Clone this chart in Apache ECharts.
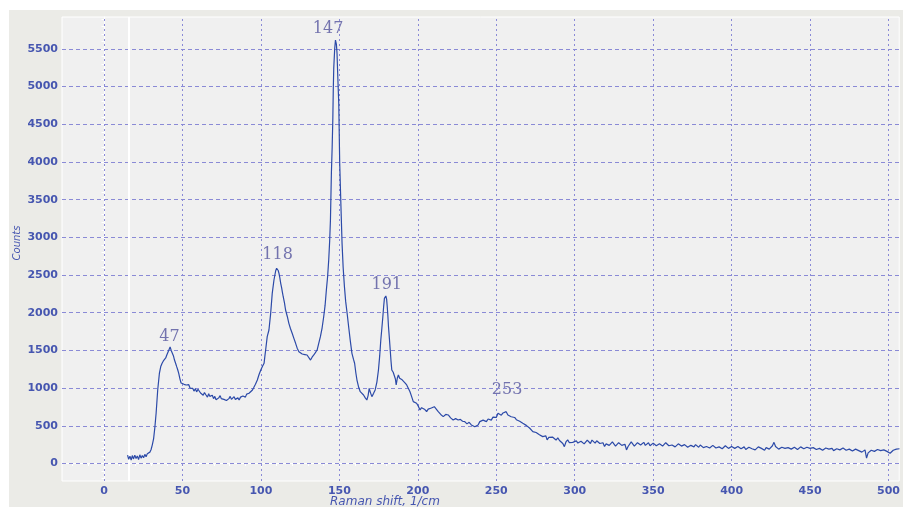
<!DOCTYPE html>
<html><head><meta charset="utf-8">
<script src="https://cdn.jsdelivr.net/npm/echarts@6/dist/echarts.min.js"></script>
<style>html,body{margin:0;padding:0;background:#fff}#c{width:903px;height:507px}</style>
</head><body><div id="c"></div><script>
// Raman spectrum: [shift (1/cm), counts]
const lowBand = [[15,110],[15.7,55],[16.5,95],[17.3,45],[18,105],[18.8,60],[19.6,110],[20.4,65],[21.2,100],[22,50],[22.8,115],[23.6,70],[24.4,105],[25.2,75],[26,120],[26.8,90],[27.6,130],[28.4,115],[29.2,150],[30,185],[30.8,250],[31.6,330],[32.4,480],[33.2,670],[34.2,975],[35.3,1200],[36.2,1290],[37,1330],[37.8,1360],[38.5,1372],[39.3,1400],[40,1440],[40.6,1465],[41.4,1510],[42.1,1545],[42.8,1500],[43.4,1483],[44.2,1430],[44.9,1372],[45.6,1330],[46.3,1284],[47,1240],[47.6,1196],[48.4,1120],[49.1,1067],[50.1,1085],[51,1050],[51.8,1065],[52.3,1041],[53.2,1020],[54,1045],[54.8,1000],[55.6,1015],[56.5,997],[57.3,960],[58.2,990],[59,950],[59.9,985],[60.7,975],[61.5,935],[62.4,955],[63.2,905],[64,940],[65,908],[65.9,880],[66.7,925],[67.4,890],[68.1,864],[69,905],[69.8,860],[70.6,890],[71.4,845],[72.3,820],[73.1,870],[74,900],[74.7,860],[75.5,886],[76.4,850],[77.2,875],[78,835],[78.7,820],[79.6,860],[80.4,890],[81.2,850],[82,875],[82.9,886],[83.7,850],[84.5,830],[85.3,870],[86.1,842],[87,880],[87.8,860],[88.5,895],[89.3,908],[90.1,880],[90.9,920],[91.7,905],[92.4,931],[93.5,955],[94.6,975],[95.5,1010],[96.5,1050],[97.7,1107],[98.8,1180],[99.9,1240],[101,1290],[102,1329],[102.5,1420]];
const peak118 = [[103,1505],[104,1682],[105.1,1771],[106.2,1992],[107.2,2257],[108.3,2434],[109.4,2557],[110,2590],[110.4,2575],[111,2560],[111.5,2522],[112,2470],[112.6,2390],[113.2,2330],[113.6,2280],[114.2,2212],[115,2130],[115.7,2036],[116.8,1950],[117.8,1859],[118.8,1790],[119.9,1727],[121,1660],[122.1,1594],[123.1,1530],[124.2,1483],[125.2,1465],[126.3,1452],[127.2,1470],[128,1445],[128.7,1455],[129.4,1439],[130.3,1420],[131.6,1372],[132.6,1410],[133.7,1439],[134.7,1470],[135.8,1505],[136.8,1590],[137.9,1682],[139,1800],[140,1947],[140.9,2100],[141.7,2301],[142.5,2480],[143.2,2699]];
const peak147 = [[143.8,2950],[144.3,3229],[144.9,3849],[145.4,4200],[145.8,4556],[146.1,4950],[146.4,5242],[147,5500],[147.5,5617],[147.8,5640],[148.1,5560],[148.5,5441],[149,5120],[149.6,4777],[150.2,3982],[151,3406],[151.7,2920],[152.4,2600],[153.2,2350],[154,2150],[155,1980],[155.9,1814],[157,1620],[158,1461],[159,1380],[159.7,1329],[160.5,1200],[161.2,1107],[162.3,1010],[163.3,952],[164.4,930],[165.4,908],[166.5,870],[167.5,842],[168.3,900],[169,997],[169.8,940],[170.7,886],[171.8,930],[172.8,975],[173.9,1080],[174.9,1240]];
const peak191 = [[175.7,1430],[176.4,1638],[177.1,1800],[177.7,1947],[178.2,2080],[178.7,2191],[179.2,2215],[179.6,2222],[180.1,2180],[180.5,2080],[180.9,1960],[181.3,1814],[181.9,1650],[182.4,1505],[182.9,1360],[183.4,1240],[184.3,1210],[185.1,1196],[185.7,1120],[186.2,1041],[186.9,1130],[187.6,1174],[188.4,1130],[189.3,1151],[190,1110],[190.8,1085],[191.8,1070],[192.9,1041],[194,995],[195,952],[196,890],[197.1,820],[198.1,815],[199.2,798]];
const band253 = [[200.3,760],[201.4,710],[202.4,740],[203.5,753],[204.5,715],[205.6,687],[206.6,720],[207.7,710],[208.6,735],[209.5,745],[210.5,753],[211.7,730],[213,687],[214.6,650],[216.2,621],[217.8,650],[219.4,643],[220.9,605],[222.5,577],[224.1,595],[225.7,577],[227.1,585],[228.5,560],[229.9,555],[231.3,525],[232.7,545],[234.1,511],[235.2,530],[236.3,488],[237.3,467],[238.4,510],[239.5,555],[240.5,530],[241.6,575],[242.6,577],[243.7,555],[244.8,590],[245.8,599],[246.8,575],[247.9,615],[249,630],[250,610],[251.1,665],[252.2,655],[253.2,640],[254.3,670],[255.3,674],[256.3,687],[257.4,643],[258.4,660],[259.5,620],[260.6,599],[261.7,610],[262.8,580],[263.8,577],[264.9,560],[265.9,545],[266.9,533],[268,540],[269.1,505],[270.1,488],[271.2,470],[272.2,460],[273.3,422],[274.4,430],[275.4,410],[276.4,400],[277.5,380],[278.6,395],[279.6,356],[280.7,334],[281.6,365],[282.4,312],[283.5,345],[284.6,325],[285.8,350],[287,334],[288.1,310],[289.2,340],[290.3,305],[291.4,320],[292.4,265],[293.4,223],[294.4,285],[295.5,312],[296.6,275],[297.6,300],[298.7,280],[299.7,289]];
const tail = [[301,300],[302,270],[303,265],[304,295],[305,305],[306,260],[307,280],[308,310],[309,295],[310,265],[311,310],[312,285],[313,270],[314,300],[315,290],[316,265],[317,255],[318,275],[319,225],[320,260],[321,280],[322,240],[323,250],[324,285],[325,270],[326,230],[327,245],[328,275],[329,260],[330,240],[331,230],[332,255],[333,180],[334,225],[335,250],[336,285],[337,270],[338,230],[339,240],[340,275],[341,290],[342,245],[343,255],[344,280],[345,240],[346,260],[347,275],[348,235],[349,230],[350,270],[351,255],[352,235],[353,225],[354,260],[355,270],[356,230],[357,240],[358,275],[359,265],[360,235],[361,215],[362,245],[363,250],[364,220],[365,230],[366,260],[367,255],[368,230],[369,220],[370,250],[371,240],[372,215],[373,205],[374,240],[375,235],[376,220],[377,250],[378,235],[379,215],[380,245],[381,230],[382,210],[383,200],[384,225],[385,240],[386,205],[387,210],[388,240],[389,225],[390,205],[391,195],[392,220],[393,215],[394,195],[395,205],[396,235],[397,230],[398,200],[399,195],[400,225],[401,220],[402,200],[403,190],[404,225],[405,215],[406,195],[407,200],[408,220],[409,185],[410,205],[411,215],[412,190],[413,195],[414,215],[415,180],[416,200],[417,220],[418,195],[419,200],[420,185],[421,175],[422,210],[423,205],[424,190],[425,215],[426,235],[427,280],[428,225],[429,210],[430,190],[431,195],[432,215],[433,220],[434,200],[435,190],[436,210],[437,205],[438,190],[439,185],[440,215],[441,210],[442,185],[443,195],[444,220],[445,215],[446,195],[447,200],[448,215],[449,225],[450,200],[451,190],[452,210],[453,205],[454,185],[455,170],[456,200],[457,200],[458,175],[459,180],[460,205],[461,210],[462,190],[463,185],[464,200],[465,170],[466,190],[467,195],[468,170],[469,180],[470,200],[471,205],[472,185],[473,175],[474,195],[475,190],[476,170],[477,165],[478,185],[479,190],[480,175],[481,170],[482,190],[483,150],[484,170],[485,180],[486,70],[487,140],[488,165],[489,175],[490,150],[491,160],[492,180],[493,185],[494,160],[495,170],[496,190],[497,180],[498,165],[499,160],[500,175],[501,135],[502,160],[503,175],[504,165],[505,190],[506,180],[507,195]];

// Peak annotations (label text and where it sits)
const peakLabels = ['47','118','147','191','253'];
const peakLabelShift = [41.7,110.6,142.8,180.2,256.9];
const peakLabelCounts = [1682,2765,5772,2367,975];

// Axis tick labels
const xTickLabels = [0,50,100,150,200,250,300,350,400,450,500];
const yTickLabels = [0,500,1000,1500,2000,2500,3000,3500,4000,4500,5000,5500];

const spectrum = [].concat(lowBand, peak118, peak147, peak191, band253, tail);
const xMinor = []; for (let v = -20; v <= 500; v += 10) xMinor.push(v);
const yMinor = []; for (let v = -200; v <= 5900; v += 100) yMinor.push(v);

const labelColor = '#4656b0';
const gridColor = '#8a8ad6';
const X_MIN = -26.8, X_MAX = 506.8, Y_MIN = -233, Y_MAX = 5924;

const chart = echarts.init(document.getElementById('c'));
chart.setOption({
  animation: false,
  backgroundColor: '#ffffff',
  graphic: [
    { type: 'rect', z: -10, shape: { x: 9, y: 10, width: 894, height: 497 }, style: { fill: '#ebebe7' } },
    { type: 'text', z: 10, style: { text: 'Raman shift, 1/cm', x: 330, y: 501.5, font: 'italic 12px "DejaVu Sans"', fill: labelColor, textAlign: 'left', textVerticalAlign: 'middle' } },
    { type: 'text', z: 10, x: 17, y: 243, rotation: Math.PI / 2, style: { text: 'Counts', x: 0, y: 0, font: 'italic 10px "DejaVu Sans"', fill: labelColor, textAlign: 'center', textVerticalAlign: 'middle' } }
  ],
  grid: { left: 62, top: 17, right: 0, bottom: 26, show: true, backgroundColor: '#f0f0f0', borderColor: '#ffffff', borderWidth: 1 },
  xAxis: [
    { type: 'value', position: 'bottom', min: X_MIN, max: X_MAX,
      axisLine: { show: true, lineStyle: { color: '#ffffff', width: 1 } },
      axisTick: { show: true, customValues: xTickLabels, length: 4, lineStyle: { color: '#ffffff' } },
      axisLabel: { customValues: xTickLabels, margin: 5, color: labelColor, fontFamily: 'DejaVu Sans', fontSize: 11, fontWeight: 'bold', formatter: v => String(v) },
      splitLine: { show: false } },
    { type: 'value', position: 'bottom', min: X_MIN, max: X_MAX,
      axisLine: { show: false }, axisLabel: { show: false },
      axisTick: { show: true, customValues: xMinor, length: 2.5, lineStyle: { color: '#ffffff' } },
      splitLine: { show: false } }
  ],
  yAxis: [
    { type: 'value', position: 'left', min: Y_MIN, max: Y_MAX,
      axisLine: { show: true, lineStyle: { color: '#ffffff', width: 1 } },
      axisTick: { show: true, customValues: yTickLabels, length: 4, lineStyle: { color: '#ffffff' } },
      axisLabel: { customValues: yTickLabels, margin: 4, color: labelColor, fontFamily: 'DejaVu Sans', fontSize: 11, fontWeight: 'bold', formatter: v => String(v) },
      splitLine: { show: false } },
    { type: 'value', position: 'left', min: Y_MIN, max: Y_MAX,
      axisLine: { show: false }, axisLabel: { show: false },
      axisTick: { show: true, customValues: yMinor, length: 2.5, lineStyle: { color: '#ffffff' } },
      splitLine: { show: false } }
  ],
  series: [
    { type: 'scatter', xAxisIndex: 0, yAxisIndex: 0, z: 1, silent: true,
      data: peakLabels.map((t, i) => ({ name: t, value: [peakLabelShift[i], peakLabelCounts[i]] })),
      symbol: 'circle', symbolSize: 1, itemStyle: { color: 'rgba(0,0,0,0)' },
      label: { show: true, position: 'inside', formatter: p => p.name, fontFamily: 'DejaVu Serif', fontSize: 16, color: '#54549e' },
      markLine: { silent: true, symbol: ['none', 'none'], label: { show: false }, animation: false,
        data: [].concat(
          yTickLabels.map(v => ({ yAxis: v, lineStyle: { type: [4, 3], color: gridColor, width: 1 } })),
          xTickLabels.map(v => ({ xAxis: v, lineStyle: { type: [2, 3], color: gridColor, width: 1 } })),
          [{ xAxis: 15.5, lineStyle: { type: 'solid', color: '#ffffff', width: 2 } }]
        ) } },
    { type: 'line', xAxisIndex: 0, yAxisIndex: 0, z: 5, data: spectrum, showSymbol: false, symbol: 'none',
      lineStyle: { color: '#2c4aa8', width: 1.2 } }
  ]
});
</script></body></html>
